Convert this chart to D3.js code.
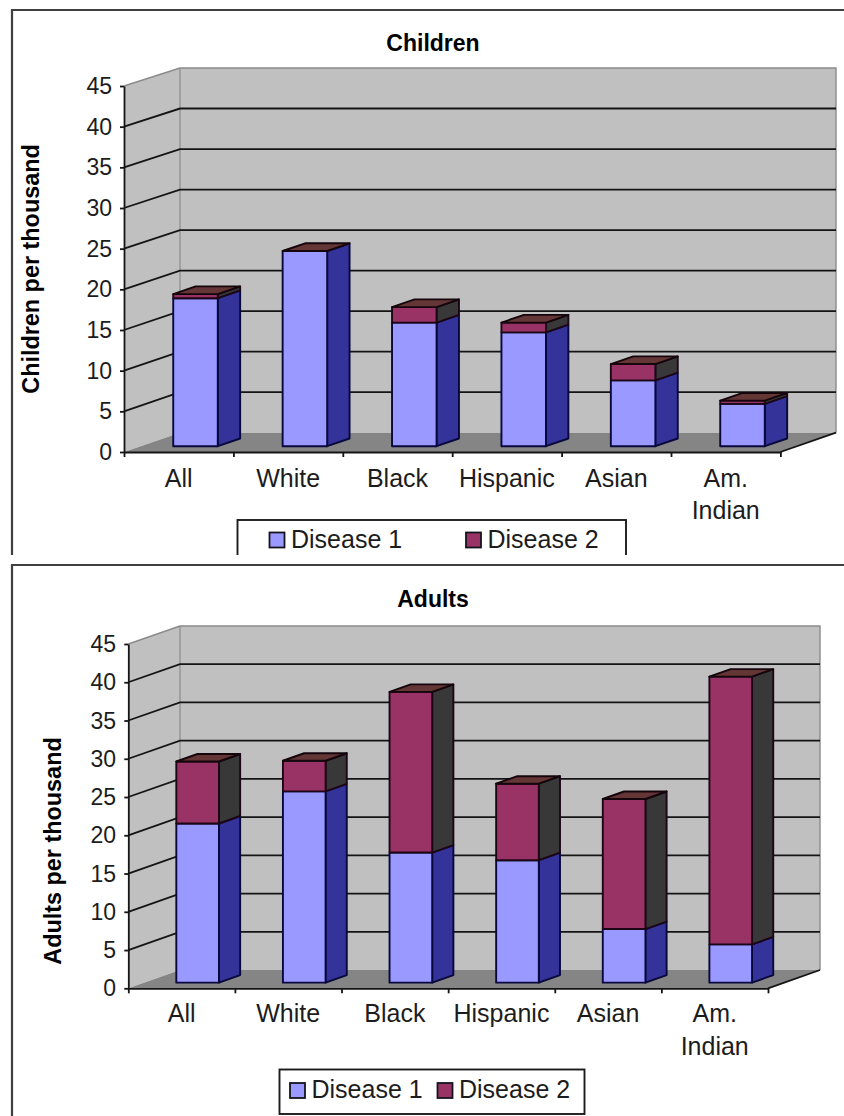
<!DOCTYPE html>
<html>
<head>
<meta charset="utf-8">
<title>Disease rates per thousand</title>
<script src="https://cdn.jsdelivr.net/npm/d3@7/dist/d3.min.js"></script>
<style>
  html, body { margin: 0; padding: 0; background: #fff; }
  svg { display: block; }
  text { font-family: "Liberation Sans", Arial, sans-serif; fill: #1c1c1c; }
</style>
</head>
<body>
<svg id="chart" width="844" height="1116"></svg>
<script>
// Shared categories and legend names
const categories = [["All"], ["White"], ["Black"], ["Hispanic"], ["Asian"], ["Am.", "Indian"]];
const seriesNames = ["Disease 1", "Disease 2"];
const yTicks = [0, 5, 10, 15, 20, 25, 30, 35, 40, 45];

// Rates per thousand
const childrenDisease1 = [18.2, 24, 15.2, 14, 8.1, 5.2];
const childrenDisease2 = [0.5, 0, 1.9, 1.2, 2, 0.4];
const adultsDisease1 = [20.8, 25, 17, 16, 7, 5];
const adultsDisease2 = [8.1, 4, 21, 10, 17, 35];

// Faces of each series: front, side, top
const faceColors = [
  { front: "#9999ff", side: "#333399", top: "#5a5ab0" },
  { front: "#993366", side: "#383838", top: "#653636" }
];
const edgeColors = ["#08083c", "#1c0616"];

const svg = d3.select("#chart");

// Outer frames of the two pictures
function frame(g, x, top, bottom) {
  g.append("path")
    .attr("d", `M844,${top}H${x}V${bottom}`)
    .attr("fill", "none").attr("stroke", "#404040").attr("stroke-width", 2.2);
}

function drawPanel(p) {
  const g = svg.append("g");
  if (p.clipBottom) {
    const id = "clip-" + p.title;
    svg.append("clipPath").attr("id", id).append("rect")
      .attr("x", 0).attr("y", 0).attr("width", 844).attr("height", p.clipBottom);
    g.attr("clip-path", `url(#${id})`);
  }
  frame(g, 12, p.frameTop, 1130);

  const yFront = d3.scaleLinear().domain([0, 45]).range([p.y0, p.y45]);
  const yBack = d3.scaleLinear().domain([0, 45]).range([p.backY0, p.backY45]);
  const x = d3.scaleBand().domain(d3.range(categories.length)).range([p.x0, p.x1]);
  const edge = d3.scaleLinear().domain([0, categories.length]).range([p.x0, p.x1]);
  const dx = p.backX - p.x0;

  // Walls and floor
  g.append("path")
    .attr("d", `M${p.x0},${yFront(0)}L${p.x0},${yFront(45)}L${p.backX},${yBack(45)}L${p.backX},${yBack(0)}Z`)
    .attr("fill", "#c0c0c0");
  g.append("rect")
    .attr("x", p.backX).attr("y", yBack(45))
    .attr("width", p.backX1 - p.backX).attr("height", yBack(0) - yBack(45))
    .attr("fill", "#c0c0c0");
  g.append("path")
    .attr("d", `M${p.x0},${yFront(0)}L${p.backX},${yBack(0)}L${p.backX1},${yBack(0)}L${p.x1},${yFront(0)}Z`)
    .attr("fill", "#858585");
  g.append("path")
    .attr("d", `M${p.x0},${yFront(45)}L${p.backX},${yBack(45)}H${p.backX1}V${yBack(0)}`)
    .attr("fill", "none").attr("stroke", "#8a8a8a").attr("stroke-width", 1.4);
  g.append("line")
    .attr("x1", p.backX).attr("x2", p.backX)
    .attr("y1", yBack(45)).attr("y2", yBack(0))
    .attr("stroke", "#8a8a8a").attr("stroke-width", 1.2);

  // Gridlines bend from the side wall onto the back wall
  g.append("g").selectAll("path")
    .data(yTicks.filter(t => t > 0 && t < 45))
    .join("path")
    .attr("d", t => `M${p.x0},${yFront(t)}L${p.backX},${yBack(t)}H${p.backX1}`)
    .attr("fill", "none").attr("stroke", "#141414").attr("stroke-width", 1.8);
  g.append("line")
    .attr("x1", p.x1).attr("y1", yFront(0))
    .attr("x2", p.backX1).attr("y2", yBack(0))
    .attr("stroke", "#141414").attr("stroke-width", 1.8);

  // Stacked 3D columns
  const step = x.step();
  const barW = step * p.barFrac;
  const project = (i, depth, value) => {
    const f = depth;
    return [
      x(i) + (step - barW) / 2 + f * dx,
      yFront(value) + f * (yBack(0) - yFront(0))
    ];
  };
  const quad = pts => "M" + pts.map(q => q.join(",")).join("L") + "Z";

  categories.forEach((_, i) => {
    let base = 0;
    p.series.forEach((values, s) => {
      const v0 = base, v1 = base + values[i];
      base = v1;
      const c = faceColors[s];
      const a = project(i, p.f1, v0), b = project(i, p.f1, v1);
      const a2 = project(i, p.f2, v0), b2 = project(i, p.f2, v1);
      const bar = g.append("g")
        .attr("stroke", edgeColors[s]).attr("stroke-width", 1.9).attr("stroke-linejoin", "round");
      if (v1 > v0) {
        bar.append("path")
          .attr("d", quad([[a[0] + barW, a[1]], [a2[0] + barW, a2[1]], [b2[0] + barW, b2[1]], [b[0] + barW, b[1]]]))
          .attr("fill", c.side);
        bar.append("path")
          .attr("d", quad([a, [a[0] + barW, a[1]], [b[0] + barW, b[1]], b]))
          .attr("fill", c.front);
      }
      if (s === p.series.length - 1) {
        // The last stack closes the column, even when its height is nil
        g.append("path")
          .attr("d", quad([b, [b[0] + barW, b[1]], [b2[0] + barW, b2[1]], [b2[0], b2[1]]]))
          .attr("fill", c.top)
          .attr("stroke", "#14060c").attr("stroke-width", 1.9).attr("stroke-linejoin", "round");
      }
    });
  });

  // Axes
  const yAxis = g.append("g")
    .attr("transform", `translate(${p.x0},0)`)
    .call(d3.axisLeft(yFront).tickValues(yTicks).tickSize(4).tickPadding(0).tickSizeOuter(0));
  yAxis.selectAll("path, line").attr("stroke", "#141414").attr("stroke-width", 1.8);
  yAxis.selectAll("text")
    .attr("x", p.tickLabelX - p.x0)
    .attr("dy", "0.33em")
    .attr("font-size", 23)
    .attr("font-family", '"Liberation Sans", Arial, sans-serif');

  const xAxis = g.append("g")
    .attr("transform", `translate(0,${yFront(0)})`)
    .call(d3.axisBottom(edge).tickValues(d3.range(categories.length + 1)).tickSize(5).tickSizeOuter(0).tickFormat(""));
  xAxis.selectAll("path, line").attr("stroke", "#141414").attr("stroke-width", 1.8);

  // Category labels
  categories.forEach((lines, i) => {
    lines.forEach((line, k) => {
      g.append("text")
        .attr("x", x(i) + step / 2)
        .attr("y", p.catBaseline + k * p.catLeading)
        .attr("text-anchor", "middle")
        .attr("font-size", 25)
        .text(line);
    });
  });

  // Titles
  g.append("text")
    .attr("x", 433).attr("y", p.titleBaseline)
    .attr("text-anchor", "middle")
    .attr("font-size", 23).attr("font-weight", "bold")
    .style("fill", "#000")
    .text(p.title);
  g.append("text")
    .attr("transform", `translate(${p.yTitleX},${p.yTitleY}) rotate(-90)`)
    .attr("text-anchor", "middle")
    .attr("font-size", 23.4).attr("font-weight", "bold")
    .style("fill", "#000")
    .text(p.yTitle);

  // Legend
  const L = p.legend;
  g.append("rect")
    .attr("x", L.x).attr("y", L.y).attr("width", L.w).attr("height", L.h)
    .attr("fill", "#fff").attr("stroke", "#1c1c1c").attr("stroke-width", 1.9);
  seriesNames.forEach((name, s) => {
    g.append("rect")
      .attr("x", L.swatchX[s]).attr("y", L.baseline - 15)
      .attr("width", 15).attr("height", 15)
      .attr("fill", faceColors[s].front)
      .attr("stroke", "#14141f").attr("stroke-width", 1.8);
    g.append("text")
      .attr("x", L.swatchX[s] + 21.5).attr("y", L.baseline)
      .attr("font-size", 25)
      .text(name);
  });
}

drawPanel({
  title: "Children", yTitle: "Children per thousand",
  series: [childrenDisease1, childrenDisease2],
  frameTop: 10, clipBottom: 555,
  x0: 124, x1: 780.4, backX: 180, backX1: 836,
  y0: 452, y45: 86, backY0: 432.7, backY45: 68,
  barFrac: 0.407, f1: 0.3, f2: 0.7,
  tickLabelX: 112, catBaseline: 487, catLeading: 32,
  titleBaseline: 51, yTitleX: 39, yTitleY: 269,
  legend: { x: 237.5, y: 520, w: 388.5, h: 60, swatchX: [269.5, 466], baseline: 547.5 }
});

drawPanel({
  title: "Adults", yTitle: "Adults per thousand",
  series: [adultsDisease1, adultsDisease2],
  frameTop: 565, clipBottom: null,
  x0: 128.3, x1: 768, backX: 180, backX1: 820,
  y0: 988.3, y45: 644, backY0: 970, backY45: 626,
  barFrac: 0.4, f1: 0.31, f2: 0.72,
  tickLabelX: 116, catBaseline: 1022, catLeading: 33,
  titleBaseline: 606.5, yTitleX: 61, yTitleY: 851,
  legend: { x: 279.5, y: 1069.5, w: 305, h: 44.5, swatchX: [290, 437.5], baseline: 1098 }
});
</script>
</body>
</html>
